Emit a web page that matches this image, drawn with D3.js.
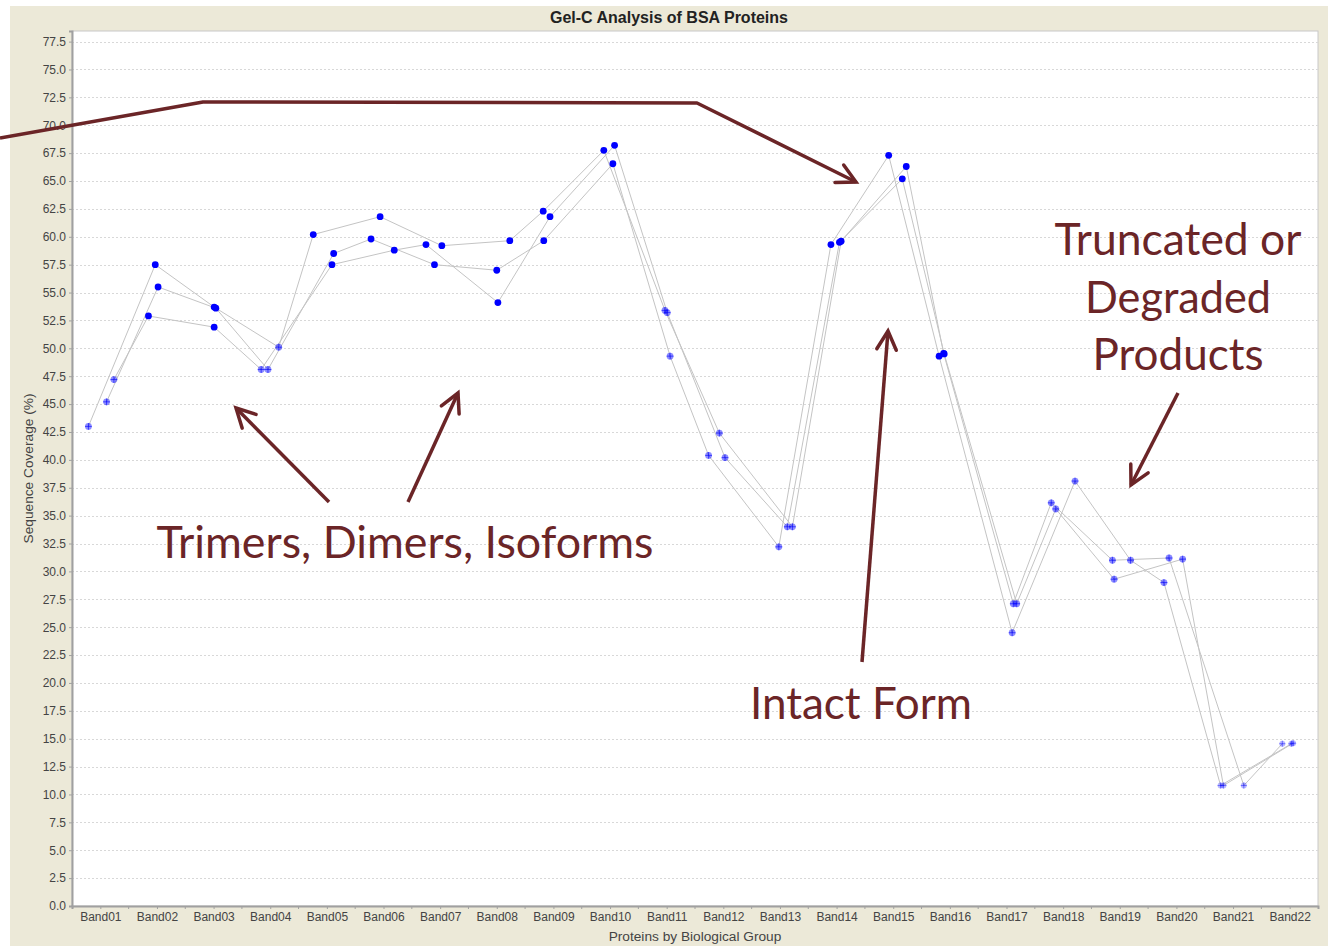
<!DOCTYPE html>
<html>
<head>
<meta charset="utf-8">
<script src="https://cdn.jsdelivr.net/npm/d3@7"></script>
<style>
  html, body { margin: 0; padding: 0; background: #ffffff; }
  svg { display: block; }
</style>
</head>
<body>
<svg id="chart" width="1328" height="946"></svg>
<script>
// ---------------- data ----------------
const title = "Gel-C Analysis of BSA Proteins";
const xAxisLabel = "Proteins by Biological Group";
const yAxisLabel = "Sequence Coverage (%)";

const categories = ["Band01","Band02","Band03","Band04","Band05","Band06","Band07","Band08","Band09","Band10","Band11",
                    "Band12","Band13","Band14","Band15","Band16","Band17","Band18","Band19","Band20","Band21","Band22"];

// marker status per band (solid / light / faint)
const bandStatus = ["light","solid","solid","light","solid","solid","solid","solid","solid","solid","light",
                    "light","light","solid","solid","solid","light","light","light","light","faint","faint"];

// three replicate series: coverage values and their x position (in band units)
const rep1Values = [43.0,57.5,53.7,50.1,60.2,61.8,59.2,59.65,62.3,67.75,53.4,42.4,34.0,59.6,66.3,49.55,27.1,36.15,31.0,31.2,10.8,14.55];
const rep1X      = [0.79,1.97,3.01,4.15,4.76,5.94,7.03,8.23,8.82,9.89,10.97,11.93,13.22,14.08,15.23,15.89,17.12,17.79,18.87,19.87,21.19,21.87];
const rep2Values = [45.2,55.5,53.6,48.1,58.5,59.8,57.5,57.0,59.65,66.55,49.3,40.4,32.2,59.3,67.3,49.3,24.5,38.1,31.0,29.0,10.8,14.55];
const rep2X      = [1.11,2.02,3.04,3.96,5.12,5.78,6.90,8.00,8.83,10.05,11.06,11.74,12.98,13.90,14.92,15.81,17.10,18.21,19.19,19.78,20.78,22.03];
const rep3Values = [47.2,52.9,51.9,48.1,57.5,58.8,59.3,54.1,61.8,68.2,53.2,40.2,34.0,59.5,65.2,49.5,27.1,35.6,29.3,31.1,10.8,14.6];
const rep3X      = [1.24,1.85,3.01,3.84,5.09,6.19,6.75,8.02,8.94,10.08,11.01,12.03,13.13,14.05,15.16,15.90,17.18,17.87,18.90,20.11,20.83,22.06];

const yTicks = d3.range(0, 77.5 + 0.001, 2.5);
const yMax = 78.45;

// annotations
const annotationLines = [
  {text: "Trimers, Dimers, Isoforms", cx: 405, y: 558, w: 497},
  {text: "Intact Form", cx: 861, y: 719, w: 222},
  {text: "Truncated or", cx: 1178, y: 255, w: 247},
  {text: "Degraded", cx: 1178, y: 313, w: 186},
  {text: "Products", cx: 1178, y: 370, w: 171}
];
const arrows = [
  [[0,138],[203,102],[697,103],[856,182]],
  [[329,502],[236,408]],
  [[408,502],[458,393]],
  [[862,662],[888,331]],
  [[1178,393],[1131,485]]
];

// ---------------- layout ----------------
const svg = d3.select("#chart");
const W = 1328, H = 946;
const plot = {left: 72, top: 31, right: 1318, bottom: 906};
const FONT = "Liberation Sans, Arial, sans-serif";

svg.append("rect").attr("x", 0).attr("y", 0).attr("width", W).attr("height", H).attr("fill", "#ffffff");
svg.append("rect").attr("x", 10).attr("y", 6).attr("width", W - 10).attr("height", H - 6).attr("fill", "#ECE9D8");
svg.append("rect").attr("x", plot.left).attr("y", plot.top)
   .attr("width", plot.right - plot.left).attr("height", plot.bottom - plot.top)
   .attr("fill", "#ffffff").attr("stroke", "#c8c8c8").attr("stroke-width", 1);

const x = d3.scaleLinear().domain([0.5, categories.length + 0.5]).range([plot.left, plot.right]);
const y = d3.scaleLinear().domain([0, yMax]).range([plot.bottom, plot.top]);

// gridlines
svg.append("g").selectAll("line").data(yTicks.filter(d => d > 0)).join("line")
  .attr("x1", plot.left).attr("x2", plot.right)
  .attr("y1", d => Math.round(y(d)) + 0.5).attr("y2", d => Math.round(y(d)) + 0.5)
  .attr("stroke", "#d8d8d8").attr("stroke-width", 1).attr("stroke-dasharray", "2,2");

// y axis
const yAxis = d3.axisLeft(y).tickValues(yTicks).tickFormat(d3.format(".1f")).tickSize(3).tickPadding(3);
const gy = svg.append("g").attr("transform", `translate(${plot.left},0)`).call(yAxis);
gy.select(".domain").attr("stroke", "#a0a0a0").attr("stroke-width", 2);
gy.selectAll(".tick line").attr("stroke", "#a0a0a0");
gy.selectAll("text").attr("font-family", FONT).attr("font-size", 12).attr("fill", "#444");

// x axis
const xAxis = d3.axisBottom(x).tickValues(d3.range(1, categories.length + 1))
  .tickFormat(d => categories[d - 1]).tickSize(3).tickPadding(3);
const gx = svg.append("g").attr("transform", `translate(0,${plot.bottom})`).call(xAxis);
gx.select(".domain").attr("stroke", "#a0a0a0").attr("stroke-width", 2);
gx.selectAll(".tick line").attr("stroke", "#a0a0a0");
gx.selectAll("text").attr("font-family", FONT).attr("font-size", 12).attr("fill", "#444");
// minor ticks at category boundaries
svg.append("g").selectAll("line").data(d3.range(1, categories.length)).join("line")
  .attr("x1", d => x(d + 0.5)).attr("x2", d => x(d + 0.5))
  .attr("y1", plot.bottom).attr("y2", plot.bottom + 3)
  .attr("stroke", "#a0a0a0");

// titles
svg.append("text").attr("x", (10 + W) / 2).attr("y", 23).attr("text-anchor", "middle")
  .attr("font-family", FONT).attr("font-size", 16).attr("font-weight", "bold")
  .attr("fill", "#222").text(title);
svg.append("text").attr("x", (plot.left + plot.right) / 2).attr("y", 941).attr("text-anchor", "middle")
  .attr("font-family", FONT).attr("font-size", 13.7).attr("fill", "#444").text(xAxisLabel);
svg.append("text").attr("transform", `translate(33,${(plot.top + plot.bottom) / 2}) rotate(-90)`).attr("text-anchor", "middle")
  .attr("font-family", FONT).attr("font-size", 13.7).attr("fill", "#444").text(yAxisLabel);

// series
const series = [
  {values: rep1Values, xs: rep1X},
  {values: rep2Values, xs: rep2X},
  {values: rep3Values, xs: rep3X}
].map(s => s.values.map((v, i) => ({x: s.xs[i], v, status: bandStatus[i]})));

const line = d3.line().x(d => x(d.x)).y(d => y(d.v));
svg.append("g").selectAll("path").data(series).join("path")
  .attr("d", line).attr("fill", "none").attr("stroke", "#c4c4c4").attr("stroke-width", 1);

const pts = series.flat();
const gp = svg.append("g");
pts.forEach(p => {
  const cx = x(p.x), cy = y(p.v);
  if (p.status === "solid") {
    gp.append("circle").attr("cx", cx).attr("cy", cy).attr("r", 3.4).attr("fill", "#0000ff");
  } else {
    const a = p.status === "light" ? 0.45 : 0.28;
    const r = p.status === "light" ? 3.4 : 3.0;
    gp.append("circle").attr("cx", cx).attr("cy", cy).attr("r", r).attr("fill", "#0000ff").attr("fill-opacity", a);
    gp.append("path").attr("d", `M${cx - r},${cy}H${cx + r}M${cx},${cy - r}V${cy + r}`)
      .attr("stroke", "#0000ff").attr("stroke-opacity", a + 0.15).attr("stroke-width", 1);
  }
});

// annotations
const annColor = "#6B2527";
const ga = svg.append("g");
arrows.forEach(pts => {
  ga.append("path").attr("d", d3.line()(pts)).attr("fill", "none")
    .attr("stroke", annColor).attr("stroke-width", 3.5).attr("stroke-linejoin", "round");
  const [x1, y1] = pts[pts.length - 2], [x2, y2] = pts[pts.length - 1];
  const ang = Math.atan2(y2 - y1, x2 - x1);
  const L = 21, spread = Math.PI / 6.5;
  const h1 = [x2 - L * Math.cos(ang - spread), y2 - L * Math.sin(ang - spread)];
  const h2 = [x2 - L * Math.cos(ang + spread), y2 - L * Math.sin(ang + spread)];
  ga.append("path").attr("d", d3.line()([h1, [x2, y2], h2])).attr("fill", "none")
    .attr("stroke", annColor).attr("stroke-width", 3.5).attr("stroke-linejoin", "miter").attr("stroke-linecap", "round");
});
annotationLines.forEach(a => {
  ga.append("text").attr("x", a.cx - a.w / 2).attr("y", a.y)
    .attr("font-family", "Lato, 'Open Sans', sans-serif").attr("font-size", 44)
    .attr("fill", annColor).attr("textLength", a.w).attr("lengthAdjust", "spacingAndGlyphs").text(a.text);
});
</script>
</body>
</html>
